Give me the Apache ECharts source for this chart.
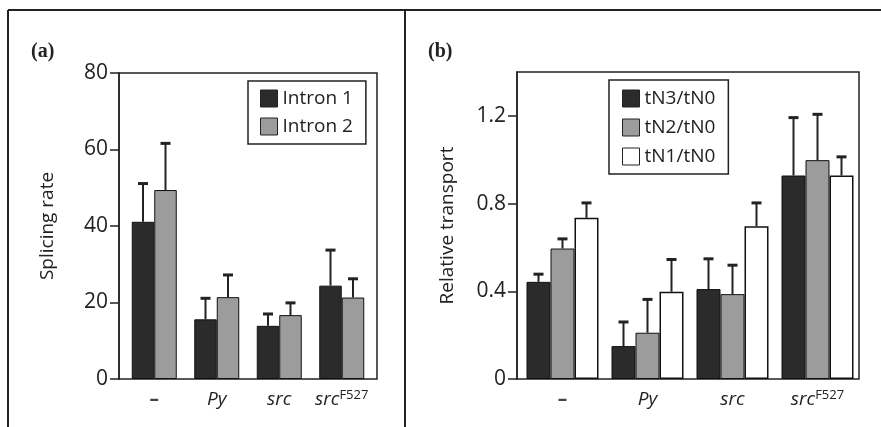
<!DOCTYPE html>
<html>
<head>
<meta charset="utf-8">
<script src="https://cdn.jsdelivr.net/npm/echarts@6/dist/echarts.min.js"></script>
<style>
  html, body { margin: 0; padding: 0; background: #fff; }
  #chart { width: 881px; height: 427px; }
</style>
</head>
<body>
<div id="chart"></div>
<script>
// categories (shared by both panels)
var categories = ['–', 'Py', 'src', 'srcF527'];

// panel (a): splicing rate
var intron1 = [41.1, 15.6, 13.9, 24.4];
var intron1Err = [51.1, 21.1, 17.0, 33.7];
var intron2 = [49.4, 21.4, 16.7, 21.3];
var intron2Err = [61.6, 27.2, 19.9, 26.2];
var ticksA = [0, 20, 40, 60, 80];

// panel (b): relative transport
var tN3 = [0.443, 0.150, 0.410, 0.928];
var tN3Err = [0.478, 0.260, 0.548, 1.192];
var tN2 = [0.595, 0.211, 0.387, 0.998];
var tN2Err = [0.639, 0.363, 0.519, 1.207];
var tN1 = [0.735, 0.398, 0.697, 0.928];
var tN1Err = [0.803, 0.545, 0.803, 1.013];
var ticksB = [0, 0.4, 0.8, 1.2];

var DARK = '#2b2b2b', GRAY = '#9c9c9c', WHITE = '#ffffff', INK = '#222';
var FONT = '"Open Sans", sans-serif';

var chart = echarts.init(document.getElementById('chart'));

function catLabel(v) {
  if (v === 'Py') return '{i|Py}';
  if (v === 'src') return '{i|src}';
  if (v === 'srcF527') return '{i|src}{sup|F527}';
  return '{n|' + v + '}';
}
var catRich = {
  i: { fontFamily: FONT, fontStyle: 'italic', fontSize: 19, color: '#222', lineHeight: 22 },
  n: { fontFamily: FONT, fontSize: 19, fontWeight: 'bold', color: '#444', lineHeight: 22 },
  sup: { fontFamily: FONT, fontSize: 13, color: '#222', verticalAlign: 'top', lineHeight: 22, padding: [0, 0, 8, 0] }
};

// upper error bar, offset from category centre by barOffset px
function errorBar(barOffset) {
  return function (params, api) {
    var base = api.coord([api.value(0), api.value(1)]);
    var top = api.coord([api.value(0), api.value(2)]);
    var cx = base[0] + barOffset;
    return {
      type: 'group',
      children: [
        { type: 'line', shape: { x1: cx, y1: base[1], x2: cx, y2: top[1] }, style: { stroke: INK, lineWidth: 2 } },
        { type: 'line', shape: { x1: cx - 5, y1: top[1], x2: cx + 5, y2: top[1] }, style: { stroke: INK, lineWidth: 3 } }
      ]
    };
  };
}
function errData(vals, errs) {
  return vals.map(function (v, i) { return [i, v, errs[i]]; });
}

function frameYAxis(gridIndex, max, interval, ticks, name, nameGap, digits) {
  return {
    type: 'value', gridIndex: gridIndex, min: 0, max: max, interval: interval,
    splitLine: { show: false },
    axisLine: { show: true, lineStyle: { color: INK, width: 1.5 } },
    axisTick: { show: true, inside: false, length: 9, customValues: ticks, lineStyle: { color: INK, width: 1.5 } },
    axisLabel: {
      customValues: ticks, margin: 11, fontFamily: FONT, fontSize: 21, color: '#222',
      formatter: function (v) { return v === 0 ? '0' : v.toFixed(digits); }
    },
    name: name, nameLocation: 'middle', nameGap: nameGap,
    nameTextStyle: { fontFamily: FONT, fontSize: 19, color: '#222' }
  };
}
function dataYAxis(gridIndex, max) {
  return { type: 'value', gridIndex: gridIndex, min: 0, max: max, show: false, splitLine: { show: false } };
}
function dataXAxis(gridIndex) {
  return {
    type: 'category', gridIndex: gridIndex, data: categories,
    axisLine: { show: false }, axisTick: { show: false },
    axisLabel: { interval: 0, hideOverlap: false, margin: 10, formatter: catLabel, rich: catRich }
  };
}

var option = {
  backgroundColor: '#fff',
  animation: false,
  graphic: [
    { type: 'line', shape: { x1: 8, y1: 10, x2: 881, y2: 10 }, style: { stroke: INK, lineWidth: 2 } },
    { type: 'line', shape: { x1: 8, y1: 10, x2: 8, y2: 427 }, style: { stroke: INK, lineWidth: 2 } },
    { type: 'line', shape: { x1: 405, y1: 10, x2: 405, y2: 427 }, style: { stroke: INK, lineWidth: 2 } },
    { type: 'text', left: 31, top: 42, style: { text: '(a)', font: 'bold 20px "Liberation Serif", serif', fill: '#222' } },
    { type: 'text', left: 428, top: 42, style: { text: '(b)', font: 'bold 20px "Liberation Serif", serif', fill: '#222' } }
  ],
  grid: [
    { left: 119, top: 73, width: 258, height: 306, show: true, borderColor: INK, borderWidth: 1.5, backgroundColor: 'transparent' },
    { left: 123, top: 73, width: 250, height: 306 },
    { left: 517, top: 72, width: 342, height: 307, show: true, borderColor: INK, borderWidth: 1.5, backgroundColor: 'transparent' },
    { left: 520, top: 72, width: 340, height: 307 }
  ],
  xAxis: [
    { type: 'value', gridIndex: 0, show: false },
    dataXAxis(1),
    { type: 'value', gridIndex: 2, show: false },
    dataXAxis(3)
  ],
  yAxis: [
    frameYAxis(0, 80, 20, ticksA, 'Splicing rate', 62, 0),
    dataYAxis(1, 80),
    frameYAxis(2, 1.4, 0.2, ticksB, 'Relative transport', 60, 1),
    dataYAxis(3, 1.4)
  ],
  legend: [
    {
      data: ['Intron 1', 'Intron 2'], orient: 'vertical', left: 248, top: 81,
      padding: [8, 13, 8, 12], itemGap: 9, itemWidth: 17, itemHeight: 17, icon: 'rect',
      borderColor: INK, borderWidth: 1.5, backgroundColor: '#fff',
      textStyle: { fontFamily: FONT, fontSize: 19, color: '#222' },
      itemStyle: { borderColor: INK, borderWidth: 1 }
    },
    {
      data: ['tN3/tN0', 'tN2/tN0', 'tN1/tN0'], orient: 'vertical', left: 609, top: 80,
      padding: [9, 13, 8, 13], itemGap: 10, itemWidth: 17, itemHeight: 17, icon: 'rect',
      borderColor: INK, borderWidth: 1.5, backgroundColor: '#fff',
      textStyle: { fontFamily: FONT, fontSize: 19, color: '#222' },
      itemStyle: { borderColor: INK, borderWidth: 1 }
    }
  ],
  series: [
    { name: 'Intron 1', type: 'bar', xAxisIndex: 1, yAxisIndex: 1, data: intron1, barWidth: 22.5, barGap: '0%',
      itemStyle: { color: DARK, borderColor: '#111', borderWidth: 1 } },
    { name: 'Intron 2', type: 'bar', xAxisIndex: 1, yAxisIndex: 1, data: intron2, barWidth: 22.5, barGap: '0%',
      itemStyle: { color: GRAY, borderColor: '#111', borderWidth: 1 } },
    { type: 'custom', xAxisIndex: 1, yAxisIndex: 1, renderItem: errorBar(-11.25), data: errData(intron1, intron1Err), z: 5 },
    { type: 'custom', xAxisIndex: 1, yAxisIndex: 1, renderItem: errorBar(11.25), data: errData(intron2, intron2Err), z: 5 },

    { name: 'tN3/tN0', type: 'bar', xAxisIndex: 3, yAxisIndex: 3, data: tN3, barWidth: 24, barGap: '0%',
      itemStyle: { color: DARK, borderColor: '#111', borderWidth: 1 } },
    { name: 'tN2/tN0', type: 'bar', xAxisIndex: 3, yAxisIndex: 3, data: tN2, barWidth: 24, barGap: '0%',
      itemStyle: { color: GRAY, borderColor: '#111', borderWidth: 1 } },
    { name: 'tN1/tN0', type: 'bar', xAxisIndex: 3, yAxisIndex: 3, data: tN1, barWidth: 24, barGap: '0%',
      itemStyle: { color: WHITE, borderColor: '#111', borderWidth: 1.5 } },
    { type: 'custom', xAxisIndex: 3, yAxisIndex: 3, renderItem: errorBar(-24), data: errData(tN3, tN3Err), z: 5 },
    { type: 'custom', xAxisIndex: 3, yAxisIndex: 3, renderItem: errorBar(0), data: errData(tN2, tN2Err), z: 5 },
    { type: 'custom', xAxisIndex: 3, yAxisIndex: 3, renderItem: errorBar(24), data: errData(tN1, tN1Err), z: 5 }
  ]
};

chart.setOption(option);
</script>
</body>
</html>
